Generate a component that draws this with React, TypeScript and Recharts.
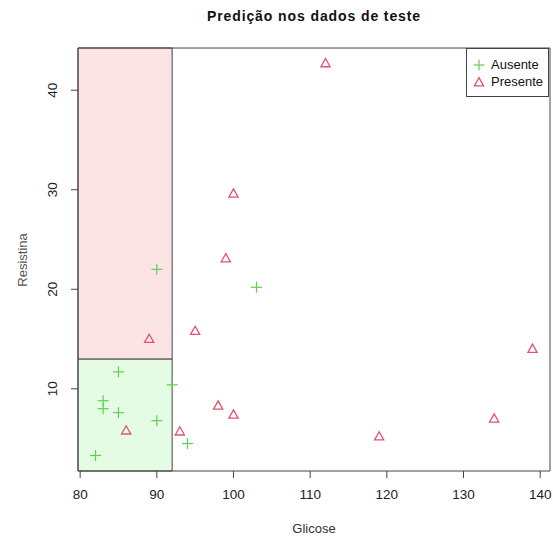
import React from "react";
import {
  ScatterChart,
  Scatter,
  XAxis,
  YAxis,
  ReferenceArea,
  Label,
} from "recharts";

const ausenteGlicose = [90, 103, 85, 92, 83, 83, 85, 90, 94, 82];
const ausenteResistina = [22.0, 20.2, 11.7, 10.4, 8.8, 8.0, 7.6, 6.8, 4.5, 3.3];
const presenteGlicose = [112, 100, 99, 95, 89, 139, 98, 100, 134, 86, 93, 119];
const presenteResistina = [42.7, 29.6, 23.1, 15.8, 15.0, 14.0, 8.3, 7.4, 7.0, 5.8, 5.7, 5.2];

const xTicks = [80, 90, 100, 110, 120, 130, 140];
const yTicks = [10, 20, 30, 40];
const xDomain: [number, number] = [79.72, 141.28];
const yDomain: [number, number] = [1.74, 44.24];
const corteGlicose = 92;
const corteResistina = 13;

const GREEN = "#61D04F";
const RED = "#DF536B";
const FONT = "'Liberation Sans', Arial, sans-serif";

const ausente = ausenteGlicose.map((x, i) => ({ x, y: ausenteResistina[i] }));
const presente = presenteGlicose.map((x, i) => ({ x, y: presenteResistina[i] }));

const Plus = ({ cx, cy }: any) => (
  <g stroke={GREEN} strokeWidth={1.2}>
    <line x1={cx - 5.5} y1={cy} x2={cx + 5.5} y2={cy} />
    <line x1={cx} y1={cy - 5.5} x2={cx} y2={cy + 5.5} />
  </g>
);

const Triangle = ({ cx, cy }: any) => (
  <polygon
    points={`${cx},${cy - 4.8} ${cx - 4.6},${cy + 3.4} ${cx + 4.6},${cy + 3.4}`}
    fill="none"
    stroke={RED}
    strokeWidth={1.3}
  />
);

const YTick = ({ y, payload }: any) => (
  <text
    x={53}
    y={y}
    transform={`rotate(-90, 53, ${y})`}
    textAnchor="middle"
    dominantBaseline="central"
    fontSize={13.5}
    fontFamily={FONT}
    fill="#222"
  >
    {payload.value}
  </text>
);

export default function App() {
  return (
    <div style={{ position: "absolute", left: 0, top: 0, width: 553, height: 540, background: "#fff" }}>
      <div
        style={{
          position: "absolute",
          top: 8,
          left: 78,
          width: 472,
          textAlign: "center",
          fontFamily: FONT,
          fontSize: 14,
          fontWeight: "bold",
          letterSpacing: 0.9,
          color: "#111",
        }}
      >
        Predição nos dados de teste
      </div>
      <ScatterChart width={553} height={540} margin={{ top: 48, right: 3, left: 0, bottom: 0 }}>
        <XAxis
          type="number"
          dataKey="x"
          domain={xDomain}
          ticks={xTicks}
          allowDataOverflow
          height={69}
          axisLine={false}
          tickLine={{ stroke: "#444" }}
          tickSize={7}
          tickMargin={11}
          tick={{ fontSize: 13.5, fontFamily: FONT, fill: "#222" }}
        >
          <Label
            value="Glicose"
            position="insideBottom"
            offset={7}
            style={{ fontSize: 13, fontFamily: FONT, fill: "#333" }}
          />
        </XAxis>
        <YAxis
          type="number"
          dataKey="y"
          domain={yDomain}
          ticks={yTicks}
          allowDataOverflow
          width={78}
          axisLine={false}
          tickLine={{ stroke: "#444" }}
          tickSize={7}
          tick={<YTick />}
        >
          <Label
            content={() => (
              <text
                x={22}
                y={260}
                transform="rotate(-90, 22, 260)"
                textAnchor="middle"
                dominantBaseline="central"
                fontSize={13}
                fontFamily={FONT}
                fill="#555"
              >
                Resistina
              </text>
            )}
          />
        </YAxis>
        <ReferenceArea
          x1={xDomain[0]}
          x2={corteGlicose}
          y1={yDomain[0]}
          y2={corteResistina}
          fill="#E4FBE4"
          fillOpacity={1}
          stroke="#444"
          strokeOpacity={1}
        />
        <ReferenceArea
          x1={xDomain[0]}
          x2={corteGlicose}
          y1={corteResistina}
          y2={yDomain[1]}
          fill="#FCE4E4"
          fillOpacity={1}
          stroke="#444"
          strokeOpacity={1}
        />
        <ReferenceArea
          x1={xDomain[0]}
          x2={xDomain[1]}
          y1={yDomain[0]}
          y2={yDomain[1]}
          fill="none"
          stroke="#444"
          strokeOpacity={1}
        />
        <Scatter name="Ausente" data={ausente} shape={<Plus />} isAnimationActive={false} />
        <Scatter name="Presente" data={presente} shape={<Triangle />} isAnimationActive={false} />
      </ScatterChart>
      <div
        style={{
          position: "absolute",
          left: 466,
          top: 48,
          width: 83,
          height: 49,
          border: "1px solid #444",
          boxSizing: "border-box",
          background: "#fff",
          fontFamily: FONT,
          fontSize: 13,
          color: "#111",
        }}
      >
        <div style={{ position: "absolute", top: 8, left: 5, display: "flex", alignItems: "center" }}>
          <svg width={14} height={14}>
            <Plus cx={7} cy={7} />
          </svg>
          <span style={{ marginLeft: 5 }}>Ausente</span>
        </div>
        <div style={{ position: "absolute", top: 25, left: 5, display: "flex", alignItems: "center" }}>
          <svg width={14} height={14}>
            <Triangle cx={7} cy={7.5} />
          </svg>
          <span style={{ marginLeft: 5 }}>Presente</span>
        </div>
      </div>
    </div>
  );
}
